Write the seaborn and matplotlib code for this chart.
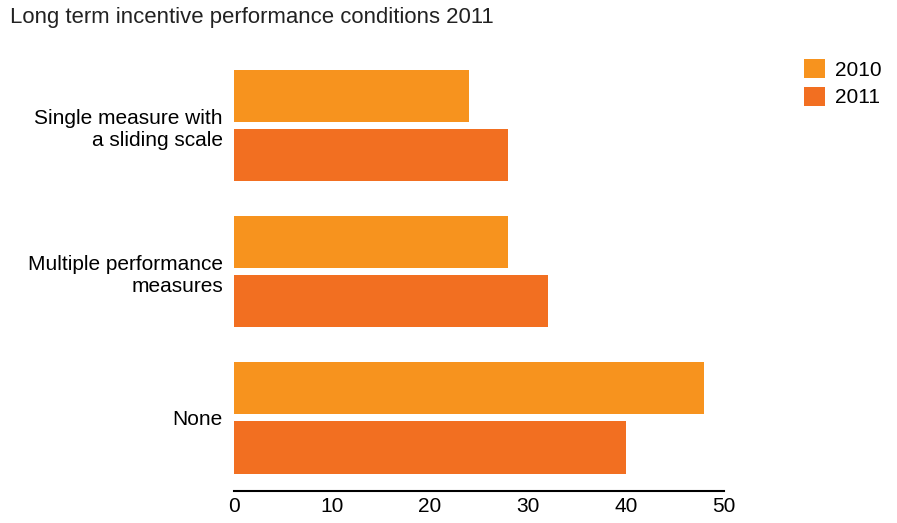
import matplotlib
matplotlib.use("Agg")
import matplotlib.pyplot as plt
import seaborn as sns
import pandas as pd

categories = ["Single measure with\na sliding scale", "Multiple performance\nmeasures", "None"]
years = ["2010", "2011"]
values_2010 = [24, 28, 48]
values_2011 = [28, 32, 40]
colors = ["#F7931E", "#F26F21"]
xticks = [0, 10, 20, 30, 40, 50]

df = pd.DataFrame({
    "category": categories * 2,
    "year": [years[0]] * 3 + [years[1]] * 3,
    "value": values_2010 + values_2011,
})

sns.set_style("white")
plt.rcParams["font.family"] = ["Liberation Sans", "DejaVu Sans"]

fig = plt.figure(figsize=(8.97, 5.23), dpi=100)
ax = fig.add_axes([234/897, 32/523, 490/897, 438.5/523])
sns.barplot(data=df, y="category", x="value", hue="year", orient="h",
            palette=colors, width=0.81, gap=0.12, saturation=1, ax=ax,
            order=categories, hue_order=years, legend=True, linewidth=0)

ax.set_xlim(0, 50)
ax.set_ylim(2.5, -0.5)
ax.set_xticks(xticks)
ax.set_xticklabels([str(t) for t in xticks], fontsize=15, color="black")
ax.tick_params(axis="y", labelsize=15, length=0, pad=8, labelcolor="black")
ax.tick_params(axis="x", length=0, pad=4)
ax.set_xlabel("")
ax.set_ylabel("")
for s in ["top", "right", "left"]:
    ax.spines[s].set_visible(False)
ax.spines["bottom"].set_color("black")
ax.spines["bottom"].set_linewidth(1.5)
for lab in ax.get_yticklabels():
    lab.set_horizontalalignment("right")
    lab.set_multialignment("right")

leg = ax.legend(loc="upper left", bbox_to_anchor=(800/897, 1 - 55/523), bbox_transform=fig.transFigure,
                frameon=False, fontsize=15, handlelength=1.0, handleheight=1.0,
                handletextpad=0.5, labelspacing=0.35, borderaxespad=0, borderpad=0.2)
for t in leg.get_texts():
    t.set_color("black")

fig.text(10/897, 1 - 18/523, "Long term incentive performance conditions 2011",
         fontsize=15.9, ha="left", va="center", color="#222222")

fig.savefig("out.png", dpi=100)
